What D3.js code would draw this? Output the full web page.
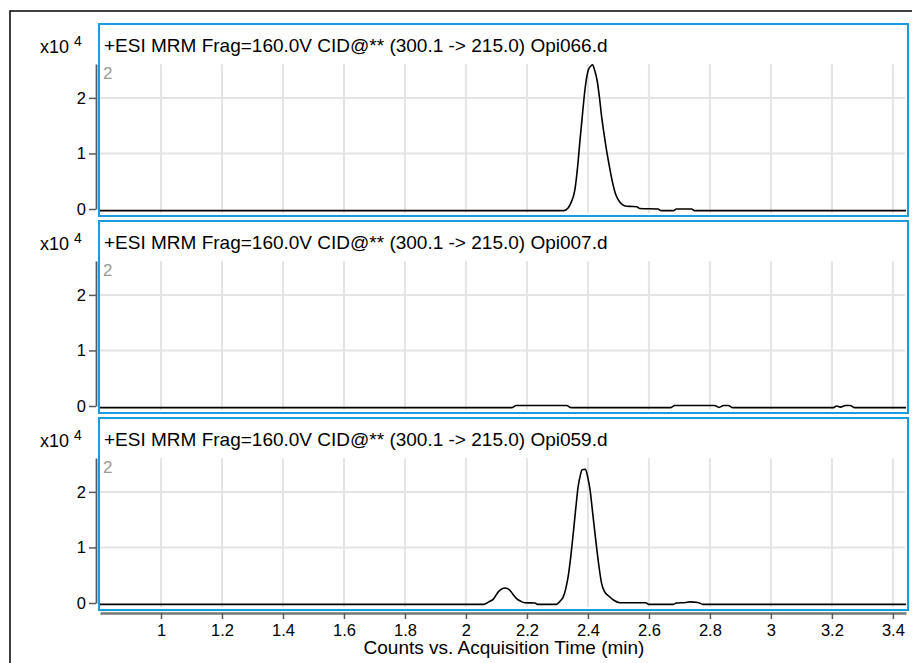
<!DOCTYPE html>
<html>
<head>
<meta charset="utf-8">
<script src="https://cdn.jsdelivr.net/npm/d3@7/dist/d3.min.js"></script>
<style>
  html, body { margin: 0; padding: 0; background: #fff; }
  svg { display: block; font-family: "Liberation Sans", Arial, sans-serif; }
</style>
</head>
<body>
<svg id="chart" width="912" height="663"></svg>
<script>
// ---- Data (counts in units of 10^4, time in minutes) ----
const panelTitles = [
  "+ESI MRM Frag=160.0V CID@** (300.1 -> 215.0) Opi066.d",
  "+ESI MRM Frag=160.0V CID@** (300.1 -> 215.0) Opi007.d",
  "+ESI MRM Frag=160.0V CID@** (300.1 -> 215.0) Opi059.d"
];
const xTicks = [1, 1.2, 1.4, 1.6, 1.8, 2, 2.2, 2.4, 2.6, 2.8, 3, 3.2, 3.4];
const xTickLabels = ["1", "1.2", "1.4", "1.6", "1.8", "2", "2.2", "2.4", "2.6", "2.8", "3", "3.2", "3.4"];
const yTicks = [0, 1, 2];
const xAxisTitle = "Counts vs. Acquisition Time (min)";

const opi066Time = [0.8, 2.32, 2.335, 2.345, 2.357, 2.366, 2.374, 2.382, 2.39, 2.401, 2.41, 2.415, 2.422, 2.43, 2.438, 2.445, 2.453, 2.461, 2.471, 2.481, 2.49, 2.5, 2.513, 2.527, 2.545, 2.56, 2.57, 2.63, 2.64, 2.68, 2.69, 2.74, 2.75, 3.443];
const opi066Counts = [-0.03, -0.03, 0.02, 0.12, 0.34, 0.75, 1.24, 1.7, 2.14, 2.5, 2.58, 2.6, 2.5, 2.32, 2.0, 1.66, 1.35, 1.06, 0.75, 0.47, 0.28, 0.16, 0.08, 0.05, 0.045, 0.04, 0.01, 0.0, -0.03, -0.03, 0.0, 0.0, -0.03, -0.03];

const opi007Time = [0.8, 2.15, 2.165, 2.33, 2.345, 2.67, 2.685, 2.815, 2.83, 2.845, 2.86, 2.875, 3.205, 3.215, 3.228, 3.245, 3.26, 3.275, 3.443];
const opi007Counts = [-0.03, -0.03, 0.01, 0.01, -0.03, -0.03, 0.01, 0.01, -0.025, 0.01, 0.01, -0.03, -0.03, 0.0, -0.02, 0.01, 0.01, -0.03, -0.03];

const opi059Time = [0.8, 2.057, 2.075, 2.09, 2.106, 2.128, 2.144, 2.155, 2.166, 2.18, 2.193, 2.226, 2.235, 2.297, 2.31, 2.319, 2.327, 2.335, 2.344, 2.352, 2.36, 2.368, 2.375, 2.381, 2.392, 2.4, 2.407, 2.415, 2.423, 2.434, 2.445, 2.455, 2.467, 2.485, 2.505, 2.59, 2.6, 2.68, 2.69, 2.72, 2.735, 2.76, 2.778, 3.443];
const opi059Counts = [-0.025, -0.025, 0.02, 0.07, 0.2, 0.27, 0.23, 0.15, 0.08, 0.03, 0.005, 0.0, -0.025, -0.025, 0.04, 0.11, 0.25, 0.47, 0.85, 1.26, 1.7, 2.1, 2.3, 2.4, 2.41, 2.25, 2.04, 1.65, 1.26, 0.75, 0.35, 0.2, 0.13, 0.05, 0.005, 0.005, -0.025, -0.025, 0.0, 0.01, 0.02, 0.01, -0.025, -0.025];

const seriesTimes = [opi066Time, opi007Time, opi059Time];
const seriesCounts = [opi066Counts, opi007Counts, opi059Counts];

// ---- Layout ----
const svg = d3.select("#chart");
const blue = "#1b9be0";
const gridColor = "#e4e4e4";
const axisColor = "#5a5a5a";
const titleSize = 19;
const tickSize = 16.5;

// outer frame
svg.append("rect")
  .attr("x", 10).attr("y", 11).attr("width", 940).attr("height", 700)
  .attr("fill", "none").attr("stroke", "#000").attr("stroke-width", 1.5);

const x = d3.scaleLinear().domain([0.8, 3.443]).range([100, 906]);

const panelZero = [209, 406, 603];

panelTitles.forEach((title, i) => {
  const y0 = panelZero[i];
  const y = d3.scaleLinear().domain([0, 2]).range([y0, y0 - 111]);
  const g = svg.append("g");

  // blue panel frame
  g.append("rect")
    .attr("x", 99).attr("y", y0 - 185).attr("width", 809).attr("height", 192)
    .attr("fill", "none").attr("stroke", blue).attr("stroke-width", 2);

  // vertical grid
  g.selectAll(".vg").data(xTicks).join("line")
    .attr("x1", d => x(d)).attr("x2", d => x(d))
    .attr("y1", y(2.61)).attr("y2", y0 + 4)
    .attr("stroke", gridColor).attr("stroke-width", 2);
  // horizontal grid
  g.selectAll(".hg").data(yTicks.filter(d => d > 0)).join("line")
    .attr("x1", 100).attr("x2", 905)
    .attr("y1", d => y(d)).attr("y2", d => y(d))
    .attr("stroke", gridColor).attr("stroke-width", 2);

  // title
  g.append("text").attr("x", 104).attr("y", y0 - 157)
    .attr("font-size", titleSize).attr("fill", "#000").text(title);

  // x10^4
  const ex = g.append("text").attr("x", 40).attr("y", y0 - 156)
    .attr("font-size", 18).attr("fill", "#000");
  ex.append("tspan").text("x10 ");
  ex.append("tspan").attr("dy", -7).attr("font-size", 14).text("4");

  // gray inner "2"
  g.append("text").attr("x", 103).attr("y", y0 - 130)
    .attr("font-size", 17).attr("fill", "#9a9a9a").text("2");

  // y axis
  const yAxisScale = d3.scaleLinear().domain([0, 2.61]).range([y0, y0 - 145]);
  const ya = g.append("g").attr("transform", "translate(96,0)")
    .call(d3.axisLeft(yAxisScale).tickValues(yTicks).tickSize(7).tickSizeOuter(0).tickPadding(3).tickFormat(d3.format("d")));
  ya.select(".domain").attr("stroke", axisColor).attr("stroke-width", 1.8);
  ya.selectAll(".tick line").attr("stroke", axisColor).attr("stroke-width", 1.5);
  ya.selectAll(".tick text").attr("font-size", tickSize).attr("fill", "#000")
    .attr("font-family", "Liberation Sans, Arial, sans-serif");

  // trace
  const pts = seriesTimes[i].map((t, k) => [t, seriesCounts[i][k]]);
  const line = d3.line().x(d => x(d[0])).y(d => y(d[1])).curve(d3.curveMonotoneX);
  g.append("path").datum(pts)
    .attr("d", line).attr("fill", "none")
    .attr("stroke", "#000").attr("stroke-width", 1.6).attr("stroke-linejoin", "round");
});

// x axis
const xa = svg.append("g").attr("transform", "translate(0,613)")
  .call(d3.axisBottom(x).tickValues(xTicks).tickSize(6).tickSizeOuter(0).tickPadding(5)
    .tickFormat((d, k) => xTickLabels[k]));
xa.select(".domain").attr("stroke", "#777").attr("stroke-width", 2.5);
xa.selectAll(".tick line").attr("stroke", axisColor).attr("stroke-width", 1.5);
xa.selectAll(".tick text").attr("font-size", tickSize).attr("fill", "#000")
  .attr("font-family", "Liberation Sans, Arial, sans-serif");

svg.append("text").attr("x", 504).attr("y", 654).attr("text-anchor", "middle")
  .attr("font-size", titleSize).attr("fill", "#000").text(xAxisTitle);
</script>
</body>
</html>
